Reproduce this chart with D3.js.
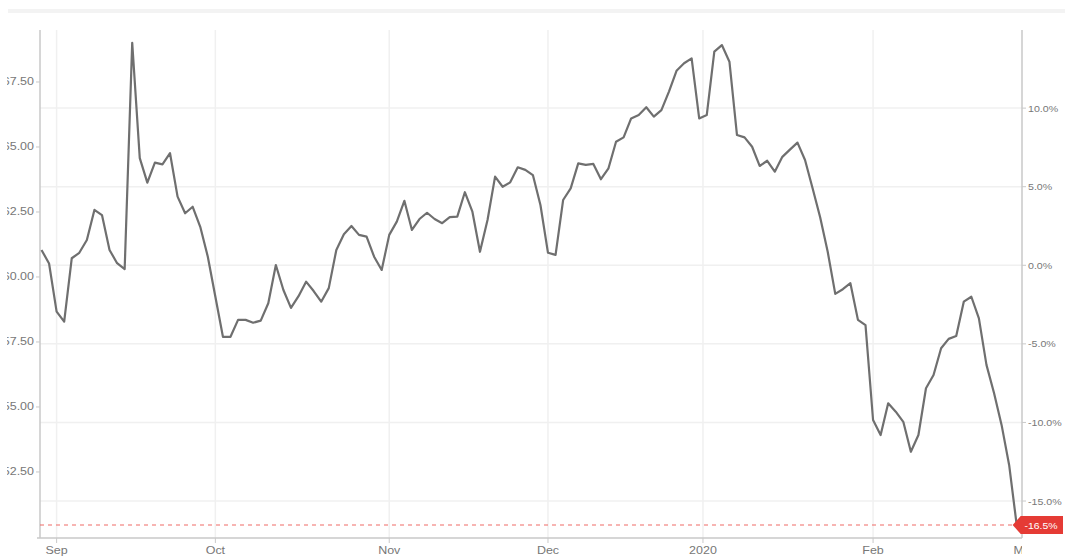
<!DOCTYPE html>
<html>
<head>
<meta charset="utf-8">
<script src="https://cdn.jsdelivr.net/npm/d3@7"></script>
<style>
  html, body { margin: 0; padding: 0; background: #ffffff; }
  svg { display: block; }
  text { font-family: "Liberation Sans", Arial, sans-serif; }
</style>
</head>
<body>
<svg id="chart" width="1065" height="560"></svg>
<script>
// ---- data (trading days, 29 Aug 2019 – 28 Feb 2020) ----
const prices = [
  61.04, 60.52, 58.67, 58.28, 60.72, 60.93, 61.42, 62.58, 62.38, 61.04,
  60.53, 60.30, 69.01, 64.57, 63.63, 64.40, 64.33, 64.76, 63.09, 62.45,
  62.70, 61.93, 60.78, 59.24, 57.70, 57.70, 58.35, 58.35, 58.24, 58.32,
  58.99, 60.46, 59.50, 58.81, 59.26, 59.82, 59.46, 59.05, 59.57, 61.04,
  61.64, 61.96, 61.62, 61.55, 60.78, 60.27, 61.62, 62.13, 62.93, 61.81,
  62.23, 62.47, 62.23, 62.07, 62.30, 62.32, 63.26, 62.51, 60.97, 62.19,
  63.86, 63.47, 63.64, 64.22, 64.12, 63.92, 62.77, 60.93, 60.85, 62.96,
  63.41, 64.37, 64.31, 64.35, 63.76, 64.18, 65.20, 65.37, 66.10, 66.23,
  66.53, 66.17, 66.42, 67.13, 67.93, 68.22, 68.41, 66.10, 66.23, 68.67,
  68.92, 68.28, 65.46, 65.37, 65.01, 64.27, 64.47, 64.05, 64.62, 64.90,
  65.17, 64.50, 63.41, 62.30, 60.97, 59.35, 59.53, 59.76, 58.35, 58.15,
  54.50, 53.92, 55.14, 54.82, 54.43, 53.28, 53.92, 55.72, 56.23, 57.26,
  57.62, 57.73, 59.05, 59.24, 58.41, 56.62, 55.54, 54.31, 52.77, 50.46
];
const basePrice = 60.45;                 // reference level for the % axis
const monthLabels = ["Sep", "Oct", "Nov", "Dec", "2020", "Feb", "Mar"];
const monthIndex  = [2, 23, 46, 67, 87.5, 110, 130];   // trading-day index of month start
const priceTicks  = [52.5, 55, 57.5, 60, 62.5, 65, 67.5];
const pctTicks    = [-15, -10, -5, 0, 5, 10];
const priceDomain = [49.96, 69.5];

(function () {
// ---- layout ----
const mLeft = 40, mRight = 1022, mTop = 30, mBottom = 538;
const xFirst = 41.5, xLast = 1016.7;
const svg = d3.select("#chart");

const x = d3.scaleLinear().domain([0, prices.length - 1]).range([xFirst, xLast]);
const y = d3.scaleLinear().domain(priceDomain).range([mBottom, mTop]);
const toPct = p => (p / basePrice - 1) * 100;
const yPct = d3.scaleLinear().domain(priceDomain.map(toPct)).range([mBottom, mTop]);

function label(g, px, py, txt, anchor, fill, size, sx) {
  return g.append("g").attr("transform", `translate(${px},${py})`)
    .append("text")
    .attr("transform", `scale(${sx || 1.25},1)`)
    .attr("text-anchor", anchor)
    .attr("font-size", size || 10)
    .attr("fill", fill || "#777777")
    .text(txt);
}

const defs = svg.append("defs");
defs.append("clipPath").attr("id", "leftClip")
  .append("rect").attr("x", 7).attr("y", 0).attr("width", 40).attr("height", 560);
defs.append("clipPath").attr("id", "bottomClip")
  .append("rect").attr("x", 0).attr("y", 0).attr("width", mRight).attr("height", 560);

// top faint band
svg.append("rect").attr("x", 8).attr("y", 9).attr("width", 1057).attr("height", 4)
  .attr("fill", "#f3f3f3");

// grid
const grid = svg.append("g");
grid.selectAll("line.h").data(pctTicks).join("line")
  .attr("x1", mLeft).attr("x2", mRight)
  .attr("y1", d => yPct(d)).attr("y2", d => yPct(d))
  .attr("stroke", "#f0f0f0").attr("stroke-width", 1.5);
grid.selectAll("line.v").data(monthIndex.filter(d => x(d) < mRight)).join("line")
  .attr("x1", d => x(d)).attr("x2", d => x(d))
  .attr("y1", mTop).attr("y2", mBottom)
  .attr("stroke", "#f0f0f0").attr("stroke-width", 1.5);

// axes lines
const axisCol = "#c9c9c9";
svg.append("line").attr("x1", mLeft).attr("x2", mLeft).attr("y1", mTop).attr("y2", mBottom)
  .attr("stroke", axisCol).attr("stroke-width", 1.5);
svg.append("line").attr("x1", mRight).attr("x2", mRight).attr("y1", mTop).attr("y2", mBottom)
  .attr("stroke", axisCol).attr("stroke-width", 1.5);
svg.append("line").attr("x1", mLeft - 3).attr("x2", mRight).attr("y1", mBottom).attr("y2", mBottom)
  .attr("stroke", axisCol).attr("stroke-width", 1.5);

// left axis
const gl = svg.append("g").attr("clip-path", "url(#leftClip)");
priceTicks.forEach(v => {
  gl.append("line").attr("x1", mLeft - 4).attr("x2", mLeft).attr("y1", y(v)).attr("y2", y(v))
    .attr("stroke", axisCol);
  label(gl, mLeft - 6, y(v) + 3.5, v.toFixed(2), "end");
});

// right axis
const gr = svg.append("g");
pctTicks.forEach(v => {
  gr.append("line").attr("x1", mRight).attr("x2", mRight + 4).attr("y1", yPct(v)).attr("y2", yPct(v))
    .attr("stroke", axisCol);
  label(gr, mRight + 6, yPct(v) + 3.5, v.toFixed(1) + "%", "start", null, 9.5, 1.12);
});

// bottom axis
const gb = svg.append("g").attr("clip-path", "url(#bottomClip)");
monthIndex.forEach((d, i) => {
  gb.append("line").attr("x1", x(d)).attr("x2", x(d)).attr("y1", mBottom).attr("y2", mBottom + 5)
    .attr("stroke", axisCol);
  label(gb, x(d), mBottom + 16, monthLabels[i], "middle");
});

// last value dashed line
const last = prices[prices.length - 1];
svg.append("line").attr("x1", mLeft).attr("x2", x(prices.length - 1))
  .attr("y1", y(last)).attr("y2", y(last))
  .attr("stroke", "#ef6b66").attr("stroke-width", 1.2).attr("stroke-dasharray", "4,4");

// price line
const line = d3.line().x((d, i) => x(i)).y(d => y(d));
svg.append("path").datum(prices).attr("d", line)
  .attr("fill", "none").attr("stroke", "#6f6f6f").attr("stroke-width", 2.2)
  .attr("stroke-linejoin", "round");

// last value badge
const by = y(last), bx = x(prices.length - 1);
svg.append("path")
  .attr("d", `M${bx - 4},${by} L${bx + 4},${by - 9} L1063,${by - 9} L1063,${by + 9} L${bx + 4},${by + 9} Z`)
  .attr("fill", "#e53b35");
label(svg, 1041, by + 3.5, toPct(last).toFixed(1) + "%", "middle", "#ffffff", 9.5, 1.1);
})();
</script>
</body>
</html>
